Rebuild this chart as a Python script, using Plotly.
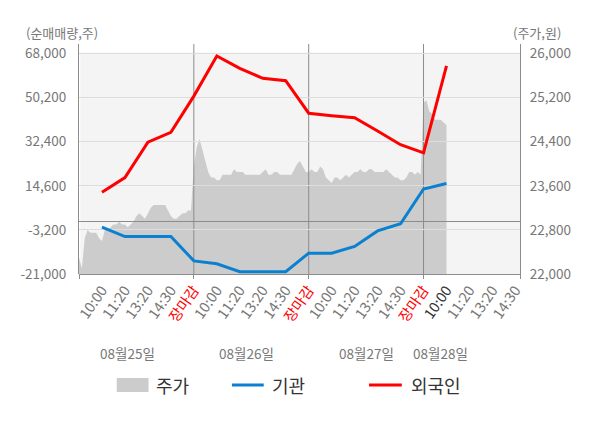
import plotly.graph_objects as go

# ---------------- data ----------------
day_labels = ["08월25일", "08월26일", "08월27일", "08월28일"]
time_labels = ["10:00", "11:20", "13:20", "14:30"]
close_label = "장마감"

# 주가 (intraday, won) sampled evenly through each session
price_0825 = [22300, 22100, 22650, 22800, 22750, 22750, 22750, 22650, 22600, 22800,
              22800, 22850, 22900, 22900, 22950, 22900, 22900, 22850, 22900, 22950,
              23050, 23100, 23050, 23000, 23100, 23200, 23250, 23250, 23250, 23250,
              23250, 23150, 23050, 23000, 23000, 23050, 23100, 23100, 23150, 23150]
price_0826 = [23950, 24300, 24450, 24250, 24050, 23850, 23750, 23750, 23700, 23700,
              23800, 23800, 23800, 23800, 23900, 23850, 23850, 23850, 23800, 23800,
              23800, 23800, 23800, 23800, 23850, 23900, 23800, 23800, 23850, 23850,
              23800, 23800, 23800, 23800, 23800, 23900, 24000, 24050, 23950, 23850]
price_0827 = [23850, 23900, 23850, 23850, 23950, 23900, 23750, 23700, 23650, 23750,
              23750, 23700, 23750, 23800, 23750, 23800, 23850, 23850, 23900, 23850,
              23850, 23900, 23900, 23850, 23850, 23850, 23850, 23900, 23850, 23800,
              23750, 23750, 23700, 23700, 23750, 23850, 23850, 23800, 23850, 23800]
price_0828 = [25100, 25150, 24950, 24900, 24800, 24800, 24800, 24750, 24700]

# 순매매량 (shares), one value per time tick
inst = [-2100, -5900, -5900, -5900, -15700, -16900, -20100, -20100, -20100,
        -12600, -12600, -9900, -3600, -700, 13300, 15500]
foreign = [12000, 17900, 32200, 36200, 50800, 67000, 62000, 58000, 57000,
           43900, 42900, 42100, 36700, 31200, 27900, 63000]

left_ticks = [-21000, -3200, 14600, 32400, 50200, 68000]
right_ticks = [22000, 22800, 23600, 24400, 25200, 26000]
date_label_pos = [2.1, 7.3, 12.5, 15.75]

# ---------------- derived axis positions ----------------
SLOTS = 5            # 4 time ticks + close per session
days = [price_0825, price_0826, price_0827, price_0828]
N = len(price_0825)
px_x, px_y = [], []
for d, arr in enumerate(days):
    for k, v in enumerate(arr):
        px_x.append(d * SLOTS + k * SLOTS / N)
        px_y.append(v)

tickvals, ticktext = [], []
for d in range(4):
    for j, t in enumerate(time_labels):
        tickvals.append(d * SLOTS + j + 1)
        if d == 3 and j == 0:
            ticktext.append('<span style="color:#333333">%s</span>' % t)
        else:
            ticktext.append(t)
    if d < 3:
        tickvals.append(d * SLOTS + SLOTS)
        ticktext.append('<span style="color:#ff0000">%s</span>' % close_label)

line_x = tickvals[:len(foreign)]
XR = [0, 19.2]
LR = [-21000, 71834]
RR = [22000, 26172]

FONT = "Noto Sans CJK KR"
GRAY = "#777777"

fig = go.Figure()
fig.add_trace(go.Scatter(x=px_x, y=px_y, xaxis="x", yaxis="y", mode="lines",
                         line=dict(width=0, color="#cccccc"), fill="tozeroy",
                         fillcolor="#cccccc", name="주가", hoverinfo="skip"))
fig.add_trace(go.Scatter(x=line_x, y=inst, xaxis="x2", yaxis="y2", mode="lines",
                         line=dict(width=3, color="#0b80d0"), name="기관"))
fig.add_trace(go.Scatter(x=line_x, y=foreign, xaxis="x2", yaxis="y2", mode="lines",
                         line=dict(width=3, color="#ff0000"), name="외국인"))

shapes = [
    # plot background (below everything)
    dict(type="rect", xref="paper", yref="y2", x0=0.003, x1=1, y0=LR[0], y1=68400,
         fillcolor="#f4f4f4", line=dict(width=0), layer="below"),
]
for d in range(1, 4):
    shapes.append(dict(type="line", xref="x2", yref="y2", x0=d * SLOTS, x1=d * SLOTS,
                       y0=LR[0], y1=LR[1], line=dict(color="#8c8c8c", width=1),
                       layer="below"))

# manual legend
leg_y = -0.4826
shapes += [
    dict(type="rect", xref="paper", yref="paper", x0=0.0856, x1=0.1577, y0=-0.513,
         y1=-0.452, fillcolor="#cccccc", line=dict(width=0)),
    dict(type="line", xref="paper", yref="paper", x0=0.3468, x1=0.4189, y0=leg_y,
         y1=leg_y, line=dict(color="#0b80d0", width=3)),
    dict(type="line", xref="paper", yref="paper", x0=0.6577, x1=0.732, y0=leg_y,
         y1=leg_y, line=dict(color="#ff0000", width=3)),
]

annotations = [
    dict(text="(순매매량,주)", xref="paper", yref="paper", x=-0.124, y=1.048,
         xanchor="left", yanchor="middle", showarrow=False,
         font=dict(family=FONT, size=13, color=GRAY)),
    dict(text="(주가,원)", xref="paper", yref="paper", x=1.097, y=1.048,
         xanchor="right", yanchor="middle", showarrow=False,
         font=dict(family=FONT, size=13, color=GRAY)),
]
for lab, pos in zip(day_labels, date_label_pos):
    annotations.append(dict(text=lab, xref="x2", yref="paper", x=pos, y=-0.3435,
                            xanchor="center", yanchor="middle", showarrow=False,
                            font=dict(family=FONT, size=13.5, color=GRAY)))
for lab, xp in zip(["주가", "기관", "외국인"], [0.1704, 0.4339, 0.7493]):
    annotations.append(dict(text=lab, xref="paper", yref="paper", x=xp, y=leg_y,
                            xanchor="left", yanchor="middle", showarrow=False,
                            font=dict(family=FONT, size=18, color="#333333")))

# the page adds an 8px body margin, so the figure is drawn 8px smaller
fig.update_layout(
    width=592, height=420,
    margin=dict(l=68, r=80, t=36, b=154),
    paper_bgcolor="white", plot_bgcolor="rgba(0,0,0,0)",
    showlegend=False,
    font=dict(family=FONT, size=13, color=GRAY),
    shapes=shapes, annotations=annotations,
    xaxis=dict(domain=[0, 1], range=XR, anchor="y", showgrid=False, zeroline=False,
               showline=True, linecolor="#8c8c8c", linewidth=1,
               tickmode="array", tickvals=[0, 5, 10, 15, 19.2], ticks="outside",
               ticklen=4, tickcolor="#8c8c8c", showticklabels=False, fixedrange=True),
    yaxis=dict(domain=[0, 1], range=RR, anchor="x", side="right", showgrid=False,
               zeroline=False, showline=True, linecolor="#8c8c8c", linewidth=1,
               tickmode="array", tickvals=right_ticks,
               ticktext=[f"{v:,}" for v in right_ticks], ticks="",
               ticklabelstandoff=6, tickfont=dict(family=FONT, size=13.5, color=GRAY)),
    xaxis2=dict(domain=[0, 1], range=XR, anchor="y2", showgrid=False, zeroline=False,
                showline=False, tickmode="array", tickvals=tickvals, ticktext=ticktext,
                tickangle=-55, ticks="", ticklabelstandoff=4,
                tickfont=dict(family=FONT, size=14.5, color=GRAY)),
    yaxis2=dict(domain=[0, 1], range=LR, anchor="x2", side="left", showgrid=True,
                gridcolor="#dddddd", gridwidth=1, zeroline=True, zerolinecolor="#8c8c8c",
                zerolinewidth=1, showline=True, linecolor="#8c8c8c", linewidth=1,
                tickmode="array", tickvals=left_ticks,
                ticktext=[f"{v:,}" for v in left_ticks], ticks="",
                ticklabelstandoff=9, tickfont=dict(family=FONT, size=13.5, color=GRAY)),
)

fig.write_html("out.html")
